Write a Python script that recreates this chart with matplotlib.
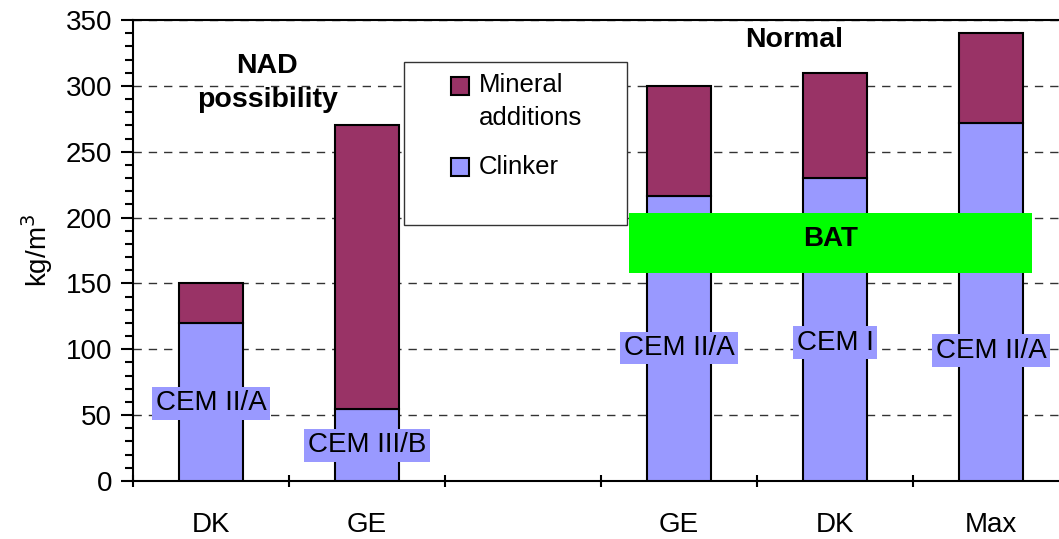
import numpy as np
import matplotlib.pyplot as plt
from matplotlib.patches import Rectangle
from matplotlib.ticker import MultipleLocator, FixedLocator, NullFormatter

plt.rcParams['font.family'] = ['Liberation Sans', 'DejaVu Sans']

# Cement content per country (kg/m3); the empty slot separates the two groups
countries = ["DK", "GE", "", "GE", "DK", "Max"]
clinker = np.array([120, 55, np.nan, 216, 230, 272])
total = np.array([150, 270, np.nan, 300, 310, 340])
mineral = total - clinker
cement_type = ["CEM II/A", "CEM III/B", "", "CEM II/A", "CEM I", "CEM II/A"]
label_level = [59, 27, np.nan, 101, 105, 99]

# BAT band (category span and kg/m3 range)
bat_x = (2.68, 5.26)
bat_y = (158, 203.5)

clinker_col = '#9999ff'
mineral_col = '#993366'

W, H = 1059, 539
fig = plt.figure(figsize=(W / 100, H / 100), dpi=100)
ax = fig.add_axes([133 / W, 58 / H, 936 / W, 461 / H])


def px(x, y):
    # pixel position (from top-left) to figure fraction
    return x / W, 1 - y / H


x = np.arange(len(countries))
has_bar = ~np.isnan(total)
ax.bar(x[has_bar], clinker[has_bar], 0.41, color=clinker_col,
       edgecolor='black', linewidth=1.5, zorder=3)
ax.bar(x[has_bar], mineral[has_bar], 0.41, bottom=clinker[has_bar],
       color=mineral_col, edgecolor='black', linewidth=1.5, zorder=3)

for xi, txt, lv in zip(x, cement_type, label_level):
    if txt:
        ax.text(xi, lv, txt, ha='center', va='center', fontsize=20, zorder=5,
                bbox=dict(boxstyle='square,pad=0.12', fc=clinker_col, ec='none'))

ax.add_patch(Rectangle((bat_x[0], bat_y[0]), bat_x[1] - bat_x[0], bat_y[1] - bat_y[0],
                       facecolor='#00ff00', edgecolor='none', zorder=4))
ax.text(np.mean(bat_x), 184, 'BAT', ha='center', va='center', fontsize=20,
        fontweight='bold', zorder=5)

ax.text(0.36, 302, 'NAD\npossibility', ha='center', va='center', fontsize=20.5,
        fontweight='bold', linespacing=1.4)
ax.text(3.74, 335, 'Normal', ha='center', va='center', fontsize=20.5,
        fontweight='bold')

ax.set_xlim(-0.5, 5.5)
ax.set_ylim(0, 350)
ax.yaxis.set_major_locator(MultipleLocator(50))
ax.yaxis.set_minor_locator(MultipleLocator(10))
ax.tick_params(axis='y', which='major', length=9, width=1.5, labelsize=20, pad=6)
ax.tick_params(axis='y', which='minor', length=6, width=1.5)

# category labels at the centres, tick marks at the boundaries
ax.set_xticks(x)
ax.set_xticklabels(countries)
ax.tick_params(axis='x', which='major', length=0, labelsize=20, pad=22)
ax.xaxis.set_minor_locator(FixedLocator(np.arange(-0.5, 5.0, 1.0)))
ax.xaxis.set_minor_formatter(NullFormatter())
ax.tick_params(axis='x', which='minor', length=9, width=1.5, direction='inout')

ax.set_ylabel('kg/m$^3$', fontsize=20, labelpad=8)
ax.yaxis.grid(True, linestyle=(0, (6, 5)), color='#333333', linewidth=1, zorder=0)
ax.set_axisbelow(True)
for s in ax.spines.values():
    s.set_linewidth(1.5)

# legend, laid out by hand
x0, y0 = px(404, 225)
x1, y1 = px(627, 62)
fig.patches.append(Rectangle((x0, y0), x1 - x0, y1 - y0, transform=fig.transFigure,
                             facecolor='white', edgecolor='#333333', linewidth=1,
                             zorder=6))
for col, ytop in [(mineral_col, 77), (clinker_col, 158)]:
    hx, hy = px(451, ytop + 18)
    fig.patches.append(Rectangle((hx, hy), 18 / W, 18 / H, transform=fig.transFigure,
                                 facecolor=col, edgecolor='black', linewidth=1.5,
                                 zorder=7))
for txt, yc in [('Mineral', 85), ('additions', 118), ('Clinker', 167)]:
    fig.text(*px(479, yc), txt, ha='left', va='center', fontsize=18.5, zorder=7)

fig.savefig('out.png', dpi=100)
